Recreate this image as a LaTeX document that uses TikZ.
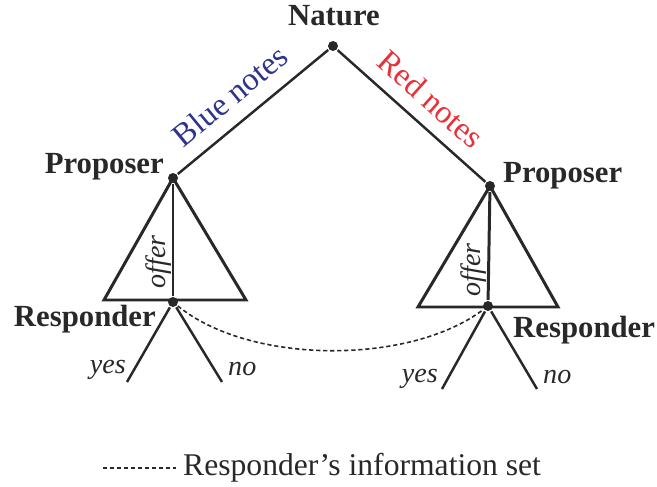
\documentclass[tikz,border=0pt]{standalone}
\usepackage{fontspec}
\setmainfont{Liberation Serif}
\usetikzlibrary{positioning}
\definecolor{ink}{RGB}{40,40,40}
\definecolor{bluenote}{RGB}{46,52,140}
\definecolor{rednote}{RGB}{232,48,56}

\begin{document}
\begin{tikzpicture}[x=0.02cm, y=-0.02cm,
                    ink, line width=1.4pt,
                    dot/.style={fill=ink, circle, inner sep=0pt, minimum size=0.2cm},
                    player/.style={font=\fontsize{17.5}{20}\selectfont\bfseries, text=ink, inner sep=0pt},
                    move/.style={font=\fontsize{16}{19}\selectfont\itshape, text=ink, inner sep=0pt},
                    notes/.style={font=\fontsize{18.5}{21}\selectfont, inner sep=0pt},
                    infoset/.style={line width=0.9pt, dash pattern=on 2.4pt off 1.6pt}
                    ]
    \useasboundingbox (0,0) rectangle (657,487);

    % decision nodes
    \node[dot] (nat)   at (333,46)  {};
    \node[dot] (propL) at (173,178) {};
    \node[dot] (propR) at (490,186) {};
    \node[dot] (respL) at (173,302) {};
    \node[dot] (respR) at (488,306) {};

    % offer triangles and end points
    \coordinate (triLa) at (104,300);
    \coordinate (triLb) at (246,300);
    \coordinate (triRa) at (418,307);
    \coordinate (triRb) at (558,307);
    \coordinate (yesL) at (127,382);
    \coordinate (noL)  at (222,382);
    \coordinate (yesR) at (442,389);
    \coordinate (noR)  at (537,389);

    \draw (nat) -- (propL);
    \draw (nat) -- (propR);

    \draw[line width=1.7pt, line join=miter] (propL.center) -- (triLa) -- (triLb) -- cycle;
    \draw[line width=1.7pt, line join=miter] (propR.center) -- (triRa) -- (triRb) -- cycle;
    \draw[line width=1.7pt] (propL) -- (respL);
    \draw[line width=1.7pt] (propR) -- (respR);

    \draw (respL) -- (yesL);
    \draw (respL) -- (noL);
    \draw (respR) -- (yesR);
    \draw (respR) -- (noR);

    \draw[infoset] (respL) .. controls (250,365) and (410,365) .. (respR);

    % labels
    \node[player, anchor=base] (natlab) at (334,25) {Nature};
    \node[player, anchor=base east] (proplabL) at (165,173) {Proposer};
    \node[player, anchor=base west] (proplabR) at (502,182) {Proposer};
    \node[player, anchor=base east] (resplabL) at (157,326) {Responder};
    \node[player, anchor=base west] (resplabR) at (512,337) {Responder};

    \node[notes, text=bluenote, rotate=39.5] (bluelab) at (230,96) {Blue notes};
    \node[notes, text=rednote, rotate=-41.7] (redlab) at (431,99) {Red notes};

    \node[move, rotate=90] (offerL) at (159,262) {offer};
    \node[move, rotate=90] (offerR) at (474,270) {offer};

    \node[move, anchor=base east] (yeslabL) at (127,373) {yes};
    \node[move, anchor=base west] (nolabL)  at (227,375) {no};
    \node[move, anchor=base east] (yeslabR) at (439,382) {yes};
    \node[move, anchor=base west] (nolabR)  at (542,383) {no};

    % legend
    \coordinate (legA) at (103,468);
    \coordinate (legB) at (176,468);
    \node[notes, font=\fontsize{18}{21}\selectfont, text=ink, anchor=base west] (leglab) at (182,475) {Responder’s information set};
    \draw[infoset] (legA) -- (legB);
\end{tikzpicture}
\end{document}
